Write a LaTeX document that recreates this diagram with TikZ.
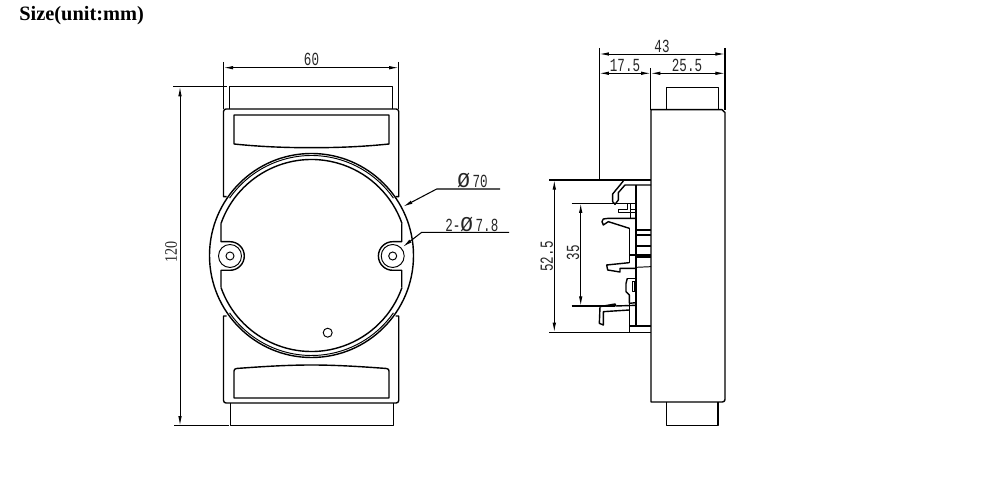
\documentclass[tikz,border=0pt]{standalone}
\usepackage{fontspec}
\usepackage{tikz}
\usetikzlibrary{arrows.meta}
\setmainfont{Liberation Serif}
\newfontfamily\dimfont[FakeStretch=0.68]{Liberation Mono}
\newfontfamily\diafont{Liberation Mono}
\newfontfamily\dimserif[FakeStretch=0.8]{Liberation Serif}
\newcommand{\bigdia}{{\diafont\fontsize{12}{12}\selectfont\raisebox{-0.5pt}{Ø}}\kern1.5pt}

\begin{document}
\begin{tikzpicture}[x=0.02cm,y=-0.02cm]
		\tikzstyle{every node}+=[inner sep=0pt]
		\tikzstyle{part}=[black,line width=0.8pt,line join=round]
		\tikzstyle{thin part}=[black,line width=0.55pt]
		\tikzstyle{dimline}=[black,line width=0.55pt,{Latex[length=5.5pt,width=2pt]}-{Latex[length=5.5pt,width=2pt]}]
		\tikzstyle{leader}=[black,line width=0.6pt]
		\tikzstyle{dimtext}=[font=\dimfont\fontsize{10.5}{10.5}\selectfont,text=black!85]
		\useasboundingbox (0,0) rectangle (1000,492);
		\node (title) [anchor=west,font=\bfseries\fontsize{11.6}{13}\selectfont] at (19,16) {Size(unit:mm)};
		% front view
		\coordinate (c) at (311.5,255.5);
		\coordinate (holeL) at (230,256);
		\coordinate (holeR) at (392.7,256);
		\draw [part] (229.3,109) -- (229.3,86.7) -- (392.3,86.7) -- (392.3,109);
		\draw [part] (226.5,196.7) -- (223.5,196.7) -- (223.5,111.5) arc (180:270:2.5) -- (396.2,109) arc (270:360:2.5) -- (398.7,196.7) -- (395.5,196.7);
		\draw [part] (234,144) -- (234,115) -- (389,115) -- (389,144) .. controls (360,147) and (335,147.7) .. (311.5,147.7) .. controls (288,147.7) and (263,147) .. (234,144) -- cycle;
		\draw [part] (c) circle (102);
		\draw [thin part] ([shift={(c)}]-145:100) arc (-145:-35:100);
		\draw [thin part] ([shift={(c)}]145:100) arc (145:35:100);
		\draw [part] (221,223.5) -- (221,241.7) -- (230,241.7) arc (-90:90:14.3) -- (221,270.3) -- (221,287.5);
		\draw [part] (401.7,223.5) -- (401.7,241.7) -- (392.7,241.7) arc (270:90:14.3) -- (401.7,270.3) -- (401.7,287.5);
		\draw [part] ([shift={(c)}]-160.5:96) arc (-160.5:-19.5:96);
		\draw [part] ([shift={(c)}]160.5:96) arc (160.5:19.5:96);
		\draw [thin part] (holeL) circle (11.5);
		\draw [thin part] (holeL) circle (4);
		\draw [thin part] (holeR) circle (11.5);
		\draw [thin part] (holeR) circle (4);
		\draw [thin part] (327.7,332.7) circle (4.5);
		\draw [part] (226.5,316) -- (223.5,316) -- (223.5,400.5) arc (180:90:2.5) -- (396.2,403) arc (90:0:2.5) -- (398.7,316) -- (395.5,316);
		\draw [part] (234,398) -- (234,371) arc (180:270:2.5) .. controls (263,366.5) and (288,365) .. (311.5,365) .. controls (335,365) and (360,366.5) .. (386.5,368.5) arc (270:360:2.5) -- (389,398) -- cycle;
		\draw [part] (230.3,403) -- (230.3,425.7) -- (393.7,425.7) -- (393.7,403);
		% dimensions of the front view
		\coordinate (w1) at (223.5,67.7);
		\coordinate (w2) at (398.7,67.7);
		\coordinate (h1) at (180,86.7);
		\coordinate (h2) at (180,425.7);
		\draw [leader] (223.5,62) -- (223.5,109);
		\draw [leader] (398.7,62) -- (398.7,109);
		\draw [leader] (173,86.7) -- (227,86.7);
		\draw [leader] (174,425.7) -- (229,425.7);
		\draw [dimline] (w1) -- (w2);
		\draw [dimline] (h1) -- (h2);
		\node (wtext) [dimtext] at (311.5,59.5) {60};
		\node (htext) [rotate=90,font=\dimserif\fontsize{10}{10}\selectfont,text=black!85] at (171,252) {120};
		% leaders
		\coordinate (d1) at (403,206.7);
		\coordinate (d1a) at (436.7,189);
		\coordinate (d1b) at (500,189);
		\coordinate (d2) at (402.7,247);
		\coordinate (d2a) at (421.7,232.3);
		\coordinate (d2b) at (509,232.3);
		\draw [leader,{Latex[length=5.5pt,width=2pt]}-] (d1) -- (d1a) -- (d1b);
		\draw [leader,{Latex[length=5.5pt,width=2pt]}-] (d2) -- (d2a) -- (d2b);
		\node (dtext) [dimtext,anchor=west] at (457,181) {\bigdia70};
		\node (htext2) [dimtext,anchor=west] at (445,225) {2-\bigdia7.8};
		% side view
		\draw [part] (651,402) -- (651,109.7) -- (722,109.7) -- (725,112.5) -- (725,399.5) arc (0:90:2.5) -- cycle;
		\draw [part] (666.7,109.7) -- (666.7,87.7) -- (718.3,87.7) -- (718.3,109.7);
		\draw [part] (666.7,402) -- (666.7,425.7) -- (718,425.7) -- (718,402);
		% clip and rail
		\begin{scope}[shift={(540,170)},xscale=1/3,yscale=1/3]
		\draw [part] (288,45) -- (288,468);
		\draw [part] (268,175) -- (268,280);
		\draw [part] (268,400) -- (268,487);
		\draw [part] (268,468) -- (333,468);
		\draw [part] (333,45) -- (255,45) -- (235,68) -- (235,90) -- (225,103) -- (218,95) -- (218,72) -- (250,33);
		\draw [part] (225,100) -- (288,100);
		\draw [part] (262,100) -- (262,118) -- (235,118) -- (235,128) -- (272,128) -- (272,100);
		\draw [part] (272,128) -- (272,145);
		\draw [part] (272,118) -- (288,118);
		\draw [part] (288,128) -- (272,128);
		\draw [part] (288,145) -- (205,145) -- (190,147) -- (186,155) -- (190,165) -- (205,155) -- (268,175);
		\draw [part] (288,180) -- (333,180);
		\draw [part] (288,195) -- (333,195);
		\draw [part] (288,228) -- (333,228);
		\draw [part] (268,255) -- (333,255);
		\draw [part] (288,261) -- (333,261);
		\draw [thin part] (288,292) -- (333,290);
		\draw [part] (268,278) -- (200,285) -- (203,300) -- (240,306) -- (240,295) -- (288,295);
		\draw [part] (262,325) -- (288,325);
		\draw [part] (262,325) -- (258,340) -- (258,365) -- (268,375) -- (268,400);
		\draw [part] (278,335) -- (285,335) -- (285,365) -- (278,365) -- cycle;
		\draw [part] (288,398) -- (268,400);
		\draw [part] (288,406) -- (228,408) -- (225,402) -- (180,410) -- (178,460) -- (190,465) -- (190,425) -- (268,420);
		\end{scope}
		% dimensions of the side view
		\coordinate (a1) at (599.3,54);
		\coordinate (a2) at (725,54);
		\coordinate (b1) at (599.3,73.3);
		\coordinate (b2) at (650.7,73.3);
		\coordinate (b3) at (725,73.3);
		\coordinate (r1) at (554.3,180);
		\coordinate (r2) at (554.3,332.3);
		\coordinate (s1) at (580.7,203.3);
		\coordinate (s2) at (580.7,306);
		\draw [leader] (599.3,48) -- (599.3,180);
		\draw [leader] (650.7,68) -- (650.7,110);
		\draw [leader] (725,48) -- (725,110);
		\draw [leader] (549.3,180) -- (651,180);
		\draw [leader] (549.3,332.3) -- (651,332.3);
		\draw [leader] (571.7,203.3) -- (615,203.3);
		\draw [leader] (571.7,306) -- (615,306);
		\draw [dimline] (a1) -- (a2);
		\draw [dimline] (b1) -- (b2);
		\draw [dimline] (b2) -- (b3);
		\draw [dimline] (r1) -- (r2);
		\draw [dimline] (s1) -- (s2);
		\node (atext) [dimtext] at (662,46) {43};
		\node (btext) [dimtext] at (625,65.5) {17.5};
		\node (ctext) [dimtext] at (687,65.5) {25.5};
		\node (rtext) [dimtext,rotate=90] at (546.7,256.5) {52.5};
		\node (stext) [dimtext,rotate=90] at (573,252.5) {35};
\end{tikzpicture}
\end{document}
